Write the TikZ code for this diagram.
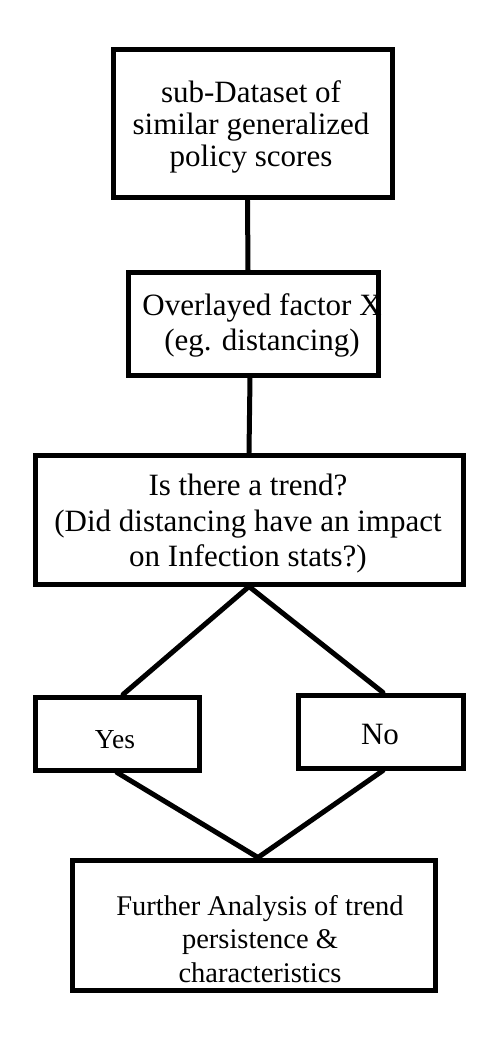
\documentclass[tikz,border=0pt]{standalone}
\usepackage{fontspec}
\setmainfont{Liberation Serif}
\begin{document}
\begin{tikzpicture}[x=1pt,y=-1pt,
  box/.style={draw,line width=5pt,inner sep=0pt,rectangle},
  lbl/.style={align=center,inner sep=0pt},
  conn/.style={line width=5pt,line cap=round}]
\useasboundingbox[fill=white] (0,0) rectangle (500,1064);
% boxes
\node[box,minimum width=279pt,minimum height=148pt] (b1) at (252.5,124) {};
\node[box,minimum width=250pt,minimum height=102pt] (b2) at (253,324) {};
\node[box,minimum width=428pt,minimum height=129pt] (b3) at (249,519.5) {};
\node[box,minimum width=164pt,minimum height=73pt] (yes) at (117,733.5) {};
\node[box,minimum width=165pt,minimum height=73pt] (no) at (380.5,731.5) {};
\node[box,minimum width=363pt,minimum height=130pt] (b4) at (253.5,925) {};
% texts
\node[lbl,font=\fontsize{31}{32}\selectfont] (t1) at (251,127) {sub-Dataset of\\similar generalized\\policy scores};
\node[lbl,font=\fontsize{31}{35}\selectfont] (t2) at (262,325.5) {Overlayed factor X\\(eg. distancing)};
\node[lbl,font=\fontsize{31}{35.5}\selectfont] (t3) at (248,524) {Is there a trend?\\(Did distancing have an impact\\on Infection stats?)};
\node[lbl,font=\fontsize{27.5}{30}\selectfont,anchor=base] (tyes) at (115,748) {Yes};
\node[lbl,font=\fontsize{31}{35}\selectfont,anchor=base] (tno) at (380,744) {No};
\node[lbl,font=\fontsize{28.5}{33.5}\selectfont] (t4) at (260,938.7) {Further Analysis of trend\\persistence \&\\characteristics};
% connectors
\draw[conn] ([xshift=-5pt]b1.south) -- ([xshift=-5pt]b2.north);
\draw[conn] ([xshift=-3pt]b2.south) -- (b3.north);
\draw[conn] (b3.south) -- ([xshift=6pt]yes.north);
\draw[conn] (b3.south) -- ([xshift=2.5pt]no.north);
\draw[conn] (yes.south) -- ([xshift=4.5pt]b4.north);
\draw[conn] ([xshift=2.5pt]no.south) -- ([xshift=4.5pt]b4.north);
\end{tikzpicture}
\end{document}
